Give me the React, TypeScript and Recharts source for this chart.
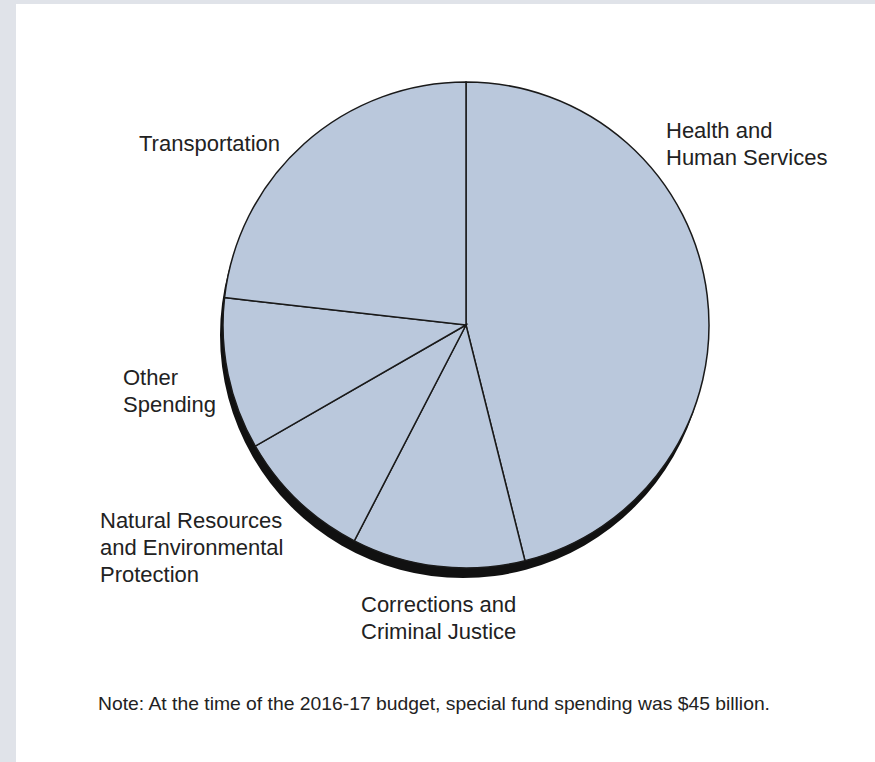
import { PieChart, Pie, Cell } from "recharts";

// special fund spending shares, 2016-17 (percent of $45 billion)
const categories = [
  "Health and Human Services",
  "Corrections and Criminal Justice",
  "Natural Resources and Environmental Protection",
  "Other Spending",
  "Transportation",
];
const shares = [46.1, 11.5, 9.1, 10.1, 23.2];
const labelLines = [
  ["Health and", "Human Services"],
  ["Corrections and", "Criminal Justice"],
  ["Natural Resources", "and Environmental", "Protection"],
  ["Other", "Spending"],
  ["Transportation"],
];
const note = "Note: At the time of the 2016-17 budget, special fund spending was $45 billion.";

const data = categories.map((name, i) => ({ name, value: shares[i] }));
const total = shares.reduce((a, b) => a + b, 0);

// label placement relative to the pie centre (left edge, first baseline)
const labelOffsets = [
  { dx: 200, dy: -187 },
  { dx: -105, dy: 287 },
  { dx: -366, dy: 203 },
  { dx: -343, dy: 60 },
  { dx: -327, dy: -174 },
];

const CX = 466;
const CY = 325;
const R = 243;
const FONT = '"Liberation Sans", Arial, Helvetica, sans-serif';

const renderLabel = (props: any) => {
  const { index } = props;
  const cx = props.cx ?? CX;
  const cy = props.cy ?? CY;
  const off = labelOffsets[index];
  return (
    <text
      x={cx + off.dx}
      y={cy + off.dy}
      fill="#222"
      fontSize={22}
      fontFamily={FONT}
      textAnchor="start"
    >
      {labelLines[index].map((line, j) => (
        <tspan key={j} x={cx + off.dx} dy={j === 0 ? 0 : 27}>
          {line}
        </tspan>
      ))}
    </text>
  );
};

export default function App() {
  return (
    <div style={{ position: "fixed", left: 0, top: 0, width: 875, height: 762, background: "#e0e3e9", overflow: "hidden" }}>
      <div style={{ position: "absolute", left: 16, top: 4, width: 859, height: 758, background: "#fff" }} />
      <div style={{ position: "absolute", left: 0, top: 0 }}>
        <PieChart width={875} height={762} margin={{ top: 0, right: 0, bottom: 0, left: 0 }}>
          {/* drop shadow under the pie */}
          <Pie
            data={[{ name: "shadow", value: total }]}
            dataKey="value"
            cx={CX - 3}
            cy={CY + 10}
            outerRadius={R}
            startAngle={90}
            endAngle={-270}
            fill="#111"
            stroke="none"
            isAnimationActive={false}
          />
          <Pie
            data={data}
            dataKey="value"
            cx={CX}
            cy={CY}
            outerRadius={R}
            startAngle={90}
            endAngle={-270}
            stroke="#1a1a1a"
            strokeWidth={1.5}
            label={renderLabel}
            labelLine={false}
            isAnimationActive={false}
          >
            {data.map((d, i) => (
              <Cell key={`cell-${i}`} fill="#bac8dc" />
            ))}
          </Pie>
        </PieChart>
      </div>
      <svg width={875} height={762} style={{ position: "absolute", left: 0, top: 0, pointerEvents: "none" }}>
        <text
          x={98}
          y={710}
          fontSize={19}
          fontFamily={FONT}
          fill="#222"
          textLength={672}
          lengthAdjust="spacingAndGlyphs"
        >
          {note}
        </text>
      </svg>
    </div>
  );
}
